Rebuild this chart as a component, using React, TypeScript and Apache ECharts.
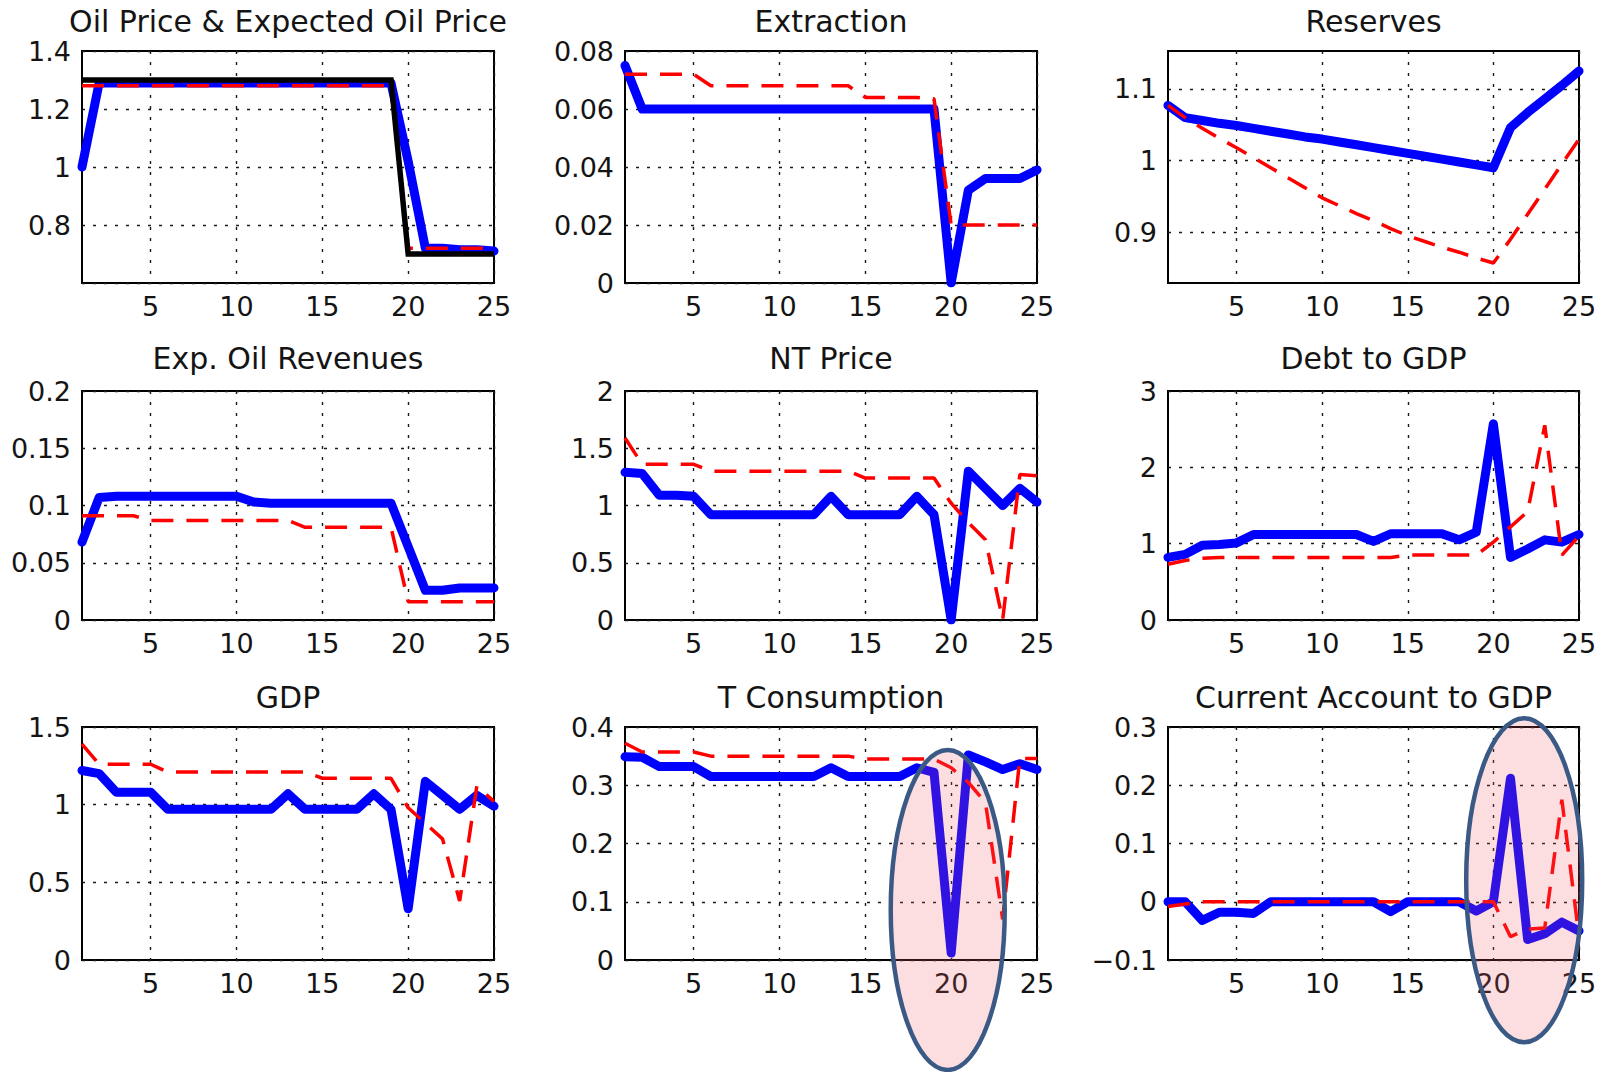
import { useEffect, useRef } from "react";
import * as echarts from "echarts";

// ---------- data ----------
const PERIODS = [1, 2, 3, 4, 5, 6, 7, 8, 9, 10, 11, 12, 13, 14, 15, 16, 17, 18, 19, 20, 21, 22, 23, 24, 25];
const X_TICKS = [5, 10, 15, 20, 25];

const OIL_BLUE = [1.0, 1.29, 1.29, 1.29, 1.29, 1.29, 1.29, 1.29, 1.29, 1.29, 1.29, 1.29, 1.29, 1.29, 1.29, 1.29, 1.29, 1.29, 1.29, 1.02, 0.72, 0.72, 0.715, 0.715, 0.71];
const OIL_RED = [1.28, 1.28, 1.28, 1.28, 1.28, 1.28, 1.28, 1.28, 1.28, 1.28, 1.28, 1.28, 1.28, 1.28, 1.28, 1.28, 1.28, 1.28, 1.28, 0.72, 0.72, 0.72, 0.72, 0.72, 0.72];
const OIL_BLACK = [1.3, 1.3, 1.3, 1.3, 1.3, 1.3, 1.3, 1.3, 1.3, 1.3, 1.3, 1.3, 1.3, 1.3, 1.3, 1.3, 1.3, 1.3, 1.3, 0.7, 0.7, 0.7, 0.7, 0.7, 0.7];

const EXTR_BLUE = [0.075, 0.06, 0.06, 0.06, 0.06, 0.06, 0.06, 0.06, 0.06, 0.06, 0.06, 0.06, 0.06, 0.06, 0.06, 0.06, 0.06, 0.06, 0.06, 0.0, 0.032, 0.036, 0.036, 0.036, 0.039];
const EXTR_RED = [0.072, 0.072, 0.072, 0.072, 0.072, 0.068, 0.068, 0.068, 0.068, 0.068, 0.068, 0.068, 0.068, 0.068, 0.064, 0.064, 0.064, 0.064, 0.0635, 0.02, 0.02, 0.02, 0.02, 0.02, 0.02];

const RES_BLUE = [1.077, 1.06, 1.056, 1.052, 1.049, 1.045, 1.041, 1.037, 1.033, 1.03, 1.026, 1.022, 1.018, 1.014, 1.01, 1.006, 1.002, 0.998, 0.994, 0.99, 1.046, 1.067, 1.086, 1.105, 1.125];
const RES_RED = [1.077, 1.06, 1.045, 1.031, 1.018, 1.004, 0.99, 0.976, 0.962, 0.948, 0.937, 0.926, 0.916, 0.905, 0.895, 0.887, 0.879, 0.872, 0.864, 0.857, 0.89, 0.925, 0.96, 0.995, 1.03];

const REV_BLUE = [0.068, 0.107, 0.108, 0.108, 0.108, 0.108, 0.108, 0.108, 0.108, 0.108, 0.103, 0.102, 0.102, 0.102, 0.102, 0.102, 0.102, 0.102, 0.102, 0.064, 0.026, 0.026, 0.028, 0.028, 0.028];
const REV_RED = [0.091, 0.091, 0.091, 0.091, 0.087, 0.087, 0.087, 0.087, 0.087, 0.087, 0.087, 0.087, 0.087, 0.081, 0.081, 0.081, 0.081, 0.081, 0.081, 0.016, 0.016, 0.016, 0.016, 0.016, 0.016];

const NT_BLUE = [1.29, 1.28, 1.09, 1.09, 1.08, 0.92, 0.92, 0.92, 0.92, 0.92, 0.92, 0.92, 1.08, 0.92, 0.92, 0.92, 0.92, 1.08, 0.92, 0.0, 1.3, 1.15, 1.0, 1.15, 1.03];
const NT_RED = [1.59, 1.36, 1.36, 1.36, 1.36, 1.3, 1.3, 1.3, 1.3, 1.3, 1.3, 1.3, 1.3, 1.3, 1.24, 1.24, 1.24, 1.24, 1.24, 1.02, 0.85, 0.7, 0.0, 1.27, 1.26];

const DEBT_BLUE = [0.82, 0.86, 0.98, 0.99, 1.01, 1.12, 1.12, 1.12, 1.12, 1.12, 1.12, 1.12, 1.03, 1.13, 1.13, 1.13, 1.13, 1.05, 1.15, 2.57, 0.82, 0.93, 1.05, 1.02, 1.12];
const DEBT_RED = [0.73, 0.78, 0.81, 0.82, 0.82, 0.82, 0.82, 0.82, 0.82, 0.82, 0.82, 0.82, 0.82, 0.82, 0.85, 0.85, 0.85, 0.85, 0.85, 1.02, 1.22, 1.42, 2.55, 0.85, 1.1];

const GDP_BLUE = [1.22, 1.2, 1.08, 1.08, 1.08, 0.97, 0.97, 0.97, 0.97, 0.97, 0.97, 0.97, 1.07, 0.97, 0.97, 0.97, 0.97, 1.07, 0.97, 0.33, 1.15, 1.06, 0.97, 1.06, 0.99];
const GDP_RED = [1.39, 1.26, 1.26, 1.26, 1.26, 1.21, 1.21, 1.21, 1.21, 1.21, 1.21, 1.21, 1.21, 1.21, 1.17, 1.17, 1.17, 1.17, 1.17, 0.98, 0.88, 0.78, 0.38, 1.12, 1.02];

const TC_BLUE = [0.349, 0.348, 0.332, 0.332, 0.332, 0.315, 0.315, 0.315, 0.315, 0.315, 0.315, 0.315, 0.33, 0.315, 0.315, 0.315, 0.315, 0.33, 0.322, 0.012, 0.352, 0.34, 0.327, 0.337, 0.327];
const TC_RED = [0.372, 0.357, 0.357, 0.357, 0.357, 0.35, 0.35, 0.35, 0.35, 0.35, 0.35, 0.35, 0.35, 0.35, 0.345, 0.345, 0.345, 0.345, 0.345, 0.33, 0.305, 0.27, 0.07, 0.346, 0.346];

const CA_BLUE = [0.0, 0.0, -0.032, -0.018, -0.018, -0.02, 0.0, 0.0, 0.0, 0.0, 0.0, 0.0, 0.0, -0.017, 0.0, 0.0, 0.0, 0.0, -0.016, 0.0, 0.212, -0.065, -0.055, -0.035, -0.05];
const CA_RED = [-0.008, -0.004, 0.0, 0.0, 0.0, 0.0, 0.0, 0.0, 0.0, 0.0, 0.0, 0.0, 0.0, 0.0, 0.0, 0.0, 0.0, 0.0, 0.0, 0.0, -0.06, -0.047, -0.045, 0.175, -0.06];

const TITLES = [
  "Oil Price & Expected Oil Price",
  "Extraction",
  "Reserves",
  "Exp. Oil Revenues",
  "NT Price",
  "Debt to GDP",
  "GDP",
  "T Consumption",
  "Current Account to GDP",
];

const BLUE_SERIES = [OIL_BLUE, EXTR_BLUE, RES_BLUE, REV_BLUE, NT_BLUE, DEBT_BLUE, GDP_BLUE, TC_BLUE, CA_BLUE];
const RED_SERIES = [OIL_RED, EXTR_RED, RES_RED, REV_RED, NT_RED, DEBT_RED, GDP_RED, TC_RED, CA_RED];

// y axes
const Y_MIN = [0.6, 0, 0.829, 0, 0, 0, 0, 0, -0.1];
const Y_MAX = [1.4, 0.08, 1.153, 0.2, 2, 3, 1.5, 0.4, 0.3];
const Y_INTERVAL = [0.2, 0.02, 0, 0.05, 0.5, 1, 0.5, 0.1, 0.1];
const RES_Y_TICKS = [0.9, 1.0, 1.1];

// highlighted regions (panel index, data-space centre)
const HIGHLIGHT_PANEL = [7, 8];
const HIGHLIGHT_CENTER = [
  [19.8, 0.086],
  [21.8, 0.037],
];

// ---------- layout / style ----------
const GRID_LEFT = [82, 625, 1168];
const GRID_WIDTH = [412, 412, 411];
const GRID_TOP = [51, 391, 727];
const GRID_HEIGHT = [232, 229, 233];
const TITLE_Y = [21, 358, 697];
const ELLIPSE_R = [
  [57, 160],
  [58, 162],
];

const FONT = "DejaVu Sans";
const TEXT_COLOR = "#141414";
const GRID_LINE = { color: "#1a1a1a", width: 1.4, type: [3, 8] as number[] };

function fmt(v: number): string {
  const n = Number(v.toFixed(4));
  if (n < 0) return "\u2212" + String(-n);
  return String(n);
}

export default function App() {
  const ref = useRef<HTMLDivElement>(null);

  useEffect(() => {
    if (!ref.current) return;
    const chart = echarts.init(ref.current, undefined, { renderer: "svg" });

    const grids: any[] = [];
    const xAxes: any[] = [];
    const yAxes: any[] = [];
    const series: any[] = [];

    for (let i = 0; i < 9; i++) {
      const r = Math.floor(i / 3);
      const c = i % 3;
      grids.push({
        left: GRID_LEFT[c],
        top: GRID_TOP[r],
        width: GRID_WIDTH[c],
        height: GRID_HEIGHT[r],
        show: true,
        borderColor: "#000",
        borderWidth: 2,
        backgroundColor: "transparent",
        containLabel: false,
        outerBoundsMode: "none",
      });
      xAxes.push({
        type: "value",
        gridIndex: i,
        min: 1,
        max: 25,
        axisLine: { show: false },
        axisTick: { show: false, customValues: X_TICKS },
        axisLabel: {
          customValues: X_TICKS,
          fontFamily: FONT,
          fontSize: 27,
          color: TEXT_COLOR,
          margin: 10,
          showMinLabel: true,
          showMaxLabel: true,
        },
        splitLine: { show: true, lineStyle: GRID_LINE },
      });
      const y: any = {
        type: "value",
        gridIndex: i,
        min: Y_MIN[i],
        max: Y_MAX[i],
        axisLine: { show: false },
        axisTick: { show: false },
        axisLabel: {
          fontFamily: FONT,
          fontSize: 27,
          color: TEXT_COLOR,
          margin: 11,
          formatter: (v: number) => (i === 0 && v < 0.65 ? "" : fmt(v)),
        },
        splitLine: { show: true, lineStyle: GRID_LINE },
      };
      if (Y_INTERVAL[i] > 0) {
        y.interval = Y_INTERVAL[i];
      } else {
        y.axisLabel.customValues = RES_Y_TICKS;
        y.axisTick.customValues = RES_Y_TICKS;
      }
      yAxes.push(y);

      series.push({
        name: TITLES[i] + " (solid)",
        type: "line",
        xAxisIndex: i,
        yAxisIndex: i,
        data: PERIODS.map((p, k) => [p, BLUE_SERIES[i][k]]),
        symbol: "none",
        lineStyle: { color: "#0000ff", width: 9, join: "round", cap: "round" },
        z: 2,
      });
      series.push({
        name: TITLES[i] + " (dashed)",
        type: "line",
        xAxisIndex: i,
        yAxisIndex: i,
        data: PERIODS.map((p, k) => [p, RED_SERIES[i][k]]),
        symbol: "none",
        lineStyle: { color: "#ff0000", width: 3.5, type: [22, 13] },
        z: 3,
      });
      if (i === 0) {
        series.push({
          name: "Oil price (actual)",
          type: "line",
          xAxisIndex: 0,
          yAxisIndex: 0,
          data: PERIODS.map((p, k) => [p, OIL_BLACK[k]]),
          symbol: "none",
          lineStyle: { color: "#000000", width: 5.5, join: "miter" },
          z: 4,
        });
      }
    }

    chart.setOption({
      animation: false,
      backgroundColor: "#ffffff",
      grid: grids,
      xAxis: xAxes,
      yAxis: yAxes,
      series,
    });

    const graphics: any[] = [];
    for (let i = 0; i < 9; i++) {
      const r = Math.floor(i / 3);
      const c = i % 3;
      graphics.push({
        type: "text",
        x: GRID_LEFT[c] + GRID_WIDTH[c] / 2,
        y: TITLE_Y[r],
        silent: true,
        style: {
          text: TITLES[i],
          fontFamily: FONT,
          fontSize: 30,
          fill: TEXT_COLOR,
          align: "center",
          verticalAlign: "middle",
        },
      });
    }
    HIGHLIGHT_PANEL.forEach((pi, k) => {
      const pt = chart.convertToPixel({ xAxisIndex: pi, yAxisIndex: pi }, HIGHLIGHT_CENTER[k]) as number[];
      graphics.push({
        type: "ellipse",
        silent: true,
        z: 100,
        shape: { cx: pt[0], cy: pt[1], rx: ELLIPSE_R[k][0], ry: ELLIPSE_R[k][1] },
        style: { fill: "rgba(240,90,105,0.2)", stroke: "#3a5a85", lineWidth: 4.5 },
      });
    });
    chart.setOption({ graphic: graphics });

    return () => chart.dispose();
  }, []);

  return (
    <div
      ref={ref}
      style={{ position: "fixed", left: 0, top: 0, width: 1612, height: 1072, background: "#fff" }}
    />
  );
}
